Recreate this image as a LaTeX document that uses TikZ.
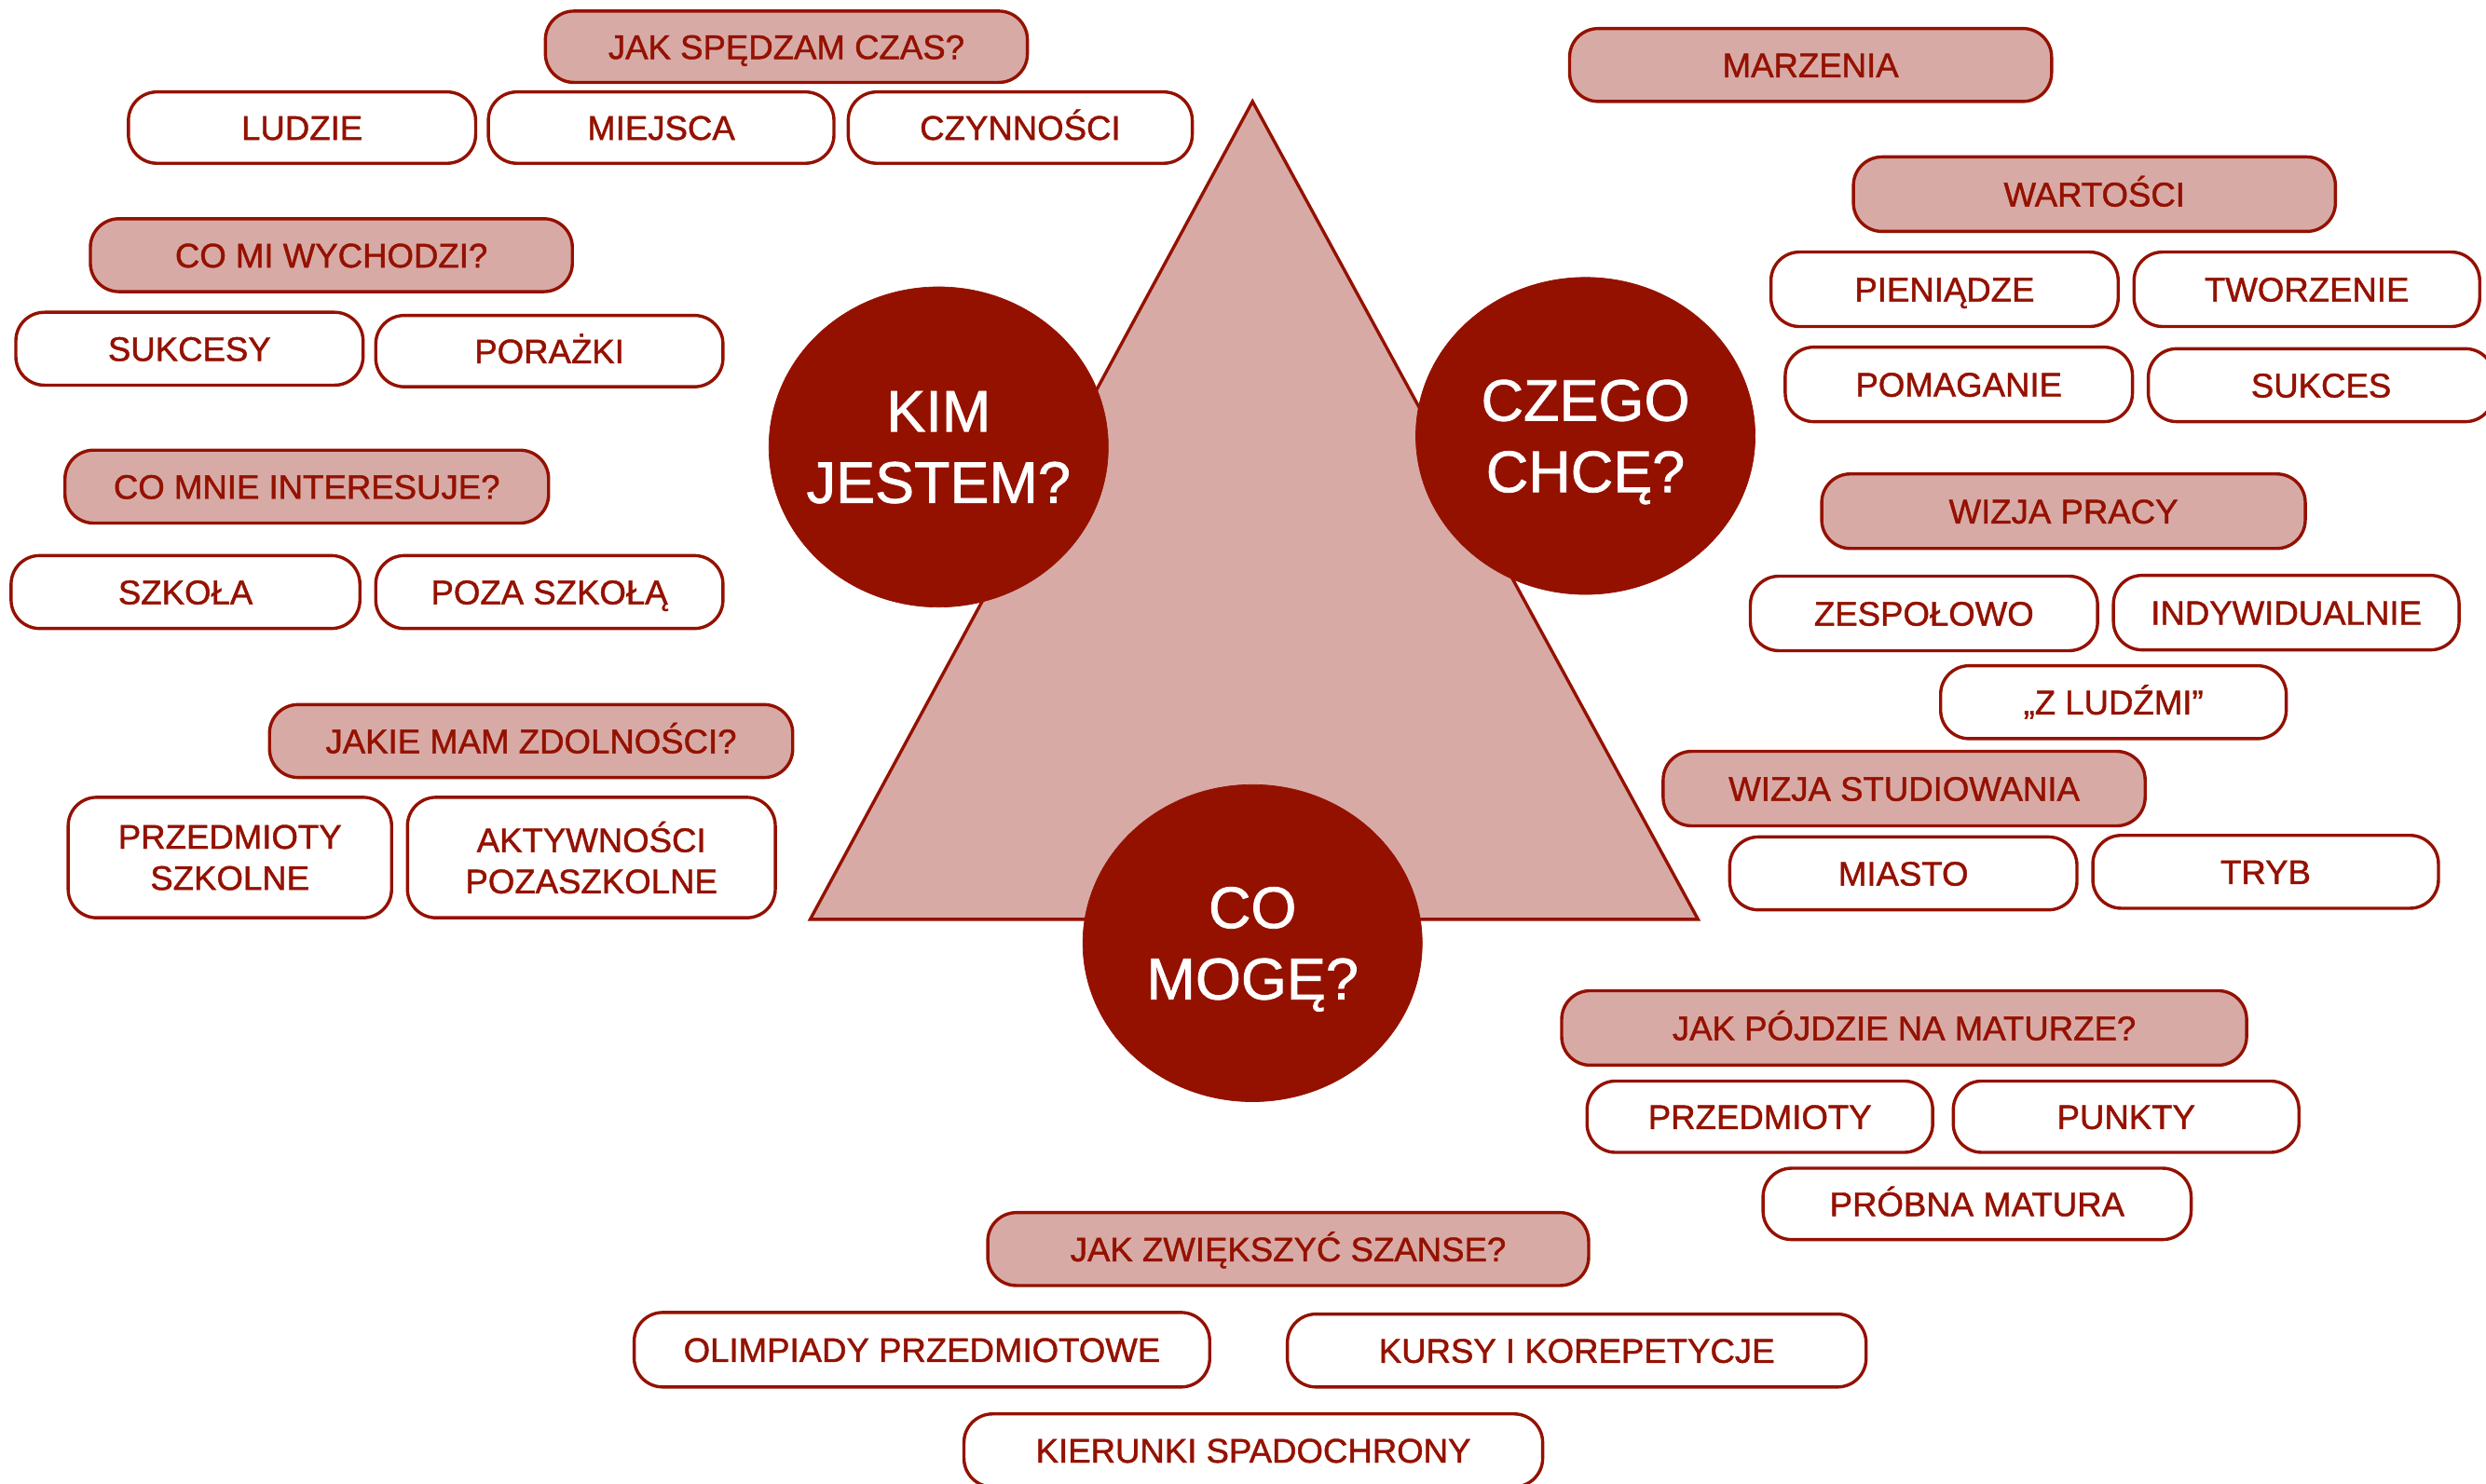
\documentclass[tikz,border=0pt]{standalone}
\usepackage{fontspec}
\setmainfont{Liberation Sans}
\newfontfamily\medfont[FakeBold=1.2]{Liberation Sans}
\usetikzlibrary{shapes.geometric}
\definecolor{dred}{HTML}{941100}
\definecolor{pinkf}{HTML}{D8AAA6}
\tikzset{
  box/.style={draw=dred, line width=2pt, rounded corners=18pt, fill=white, text=dred,
    font=\medfont\fontsize{21.5}{26}\selectfont, inner sep=0pt, align=center,
    text height=15.4pt, text depth=0pt},
  box2/.style={box, text height=, text depth=},
  head/.style={box, fill=pinkf},
  circ/.style={ellipse, fill=dred, draw=dred, inner sep=0pt},
  circtext/.style={text=white, font=\medfont\fontsize{37}{45}\selectfont, align=center,
    inner sep=0pt, text depth=0pt},
  tri/.style={draw=dred, fill=pinkf, line width=2pt, line join=miter}
}
\newcommand{\bx}[7]{\node[#1, minimum width=#5pt, minimum height=#6pt] (#2) at (#3,#4) {#7};}
\begin{document}
\begin{tikzpicture}[x=1pt, y=-1pt]
\useasboundingbox (0,0) rectangle (1568,936);
% triangle
\coordinate (apex) at (790,64);
\coordinate (bl) at (511,580);
\coordinate (br) at (1071,580);
\draw[tri] (apex) -- (bl) -- (br) -- cycle;
% circles
\node[circ, minimum width=214pt, minimum height=202pt] (kim) at (592,282) {};
\node[circtext] (kimt) at (kim) {KIM\\JESTEM?};
\node[circ, minimum width=214pt, minimum height=200pt] (czego) at (1000,275) {};
\node[circtext] (czegot) at (czego) {CZEGO\\CHCĘ?};
\node[circ, minimum width=214pt, minimum height=200pt] (co) at (790,595) {};
\node[circtext] (cot) at (co) {CO\\MOGĘ?};
% left groups
\bx{head}{jsc}{496}{29.5}{304}{45}{JAK SPĘDZAM CZAS?}
\bx{box}{ludzie}{190.5}{80.5}{219}{45}{LUDZIE}
\bx{box}{miejsca}{417}{80.5}{218}{45}{MIEJSCA}
\bx{box}{czyn}{643.5}{80.5}{217}{45}{CZYNNOŚCI}
\bx{head}{cmw}{209}{161}{304}{46}{CO MI WYCHODZI?}
\bx{box}{sukcesy}{119.5}{220}{219}{46}{SUKCESY}
\bx{box}{porazki}{346.5}{221.5}{219}{45}{PORAŻKI}
\bx{head}{cmi}{193.5}{307}{305}{46}{CO MNIE INTERESUJE?}
\bx{box}{szkola}{117}{373.5}{220}{46}{SZKOŁA}
\bx{box}{poza}{346.5}{373.5}{219}{46}{POZA SZKOŁĄ}
\bx{head}{jmz}{335}{467.5}{330}{46}{JAKIE MAM ZDOLNOŚCI?}
\bx{box2}{przsz}{145}{541}{204}{76}{PRZEDMIOTY\\SZKOLNE}
\bx{box2}{akt}{373}{541}{232}{76}{AKTYWNOŚCI\\POZASZKOLNE}
% bottom group
\bx{head}{jzs}{812.5}{788}{379}{46}{JAK ZWIĘKSZYĆ SZANSE?}
\bx{box}{olimp}{581.5}{851.5}{363}{47}{OLIMPIADY PRZEDMIOTOWE}
\bx{box}{kursy}{994.5}{852}{365}{46}{KURSY I KOREPETYCJE}
\bx{box}{kier}{790.5}{915}{365}{46}{KIERUNKI SPADOCHRONY}
% right groups
\bx{head}{marz}{1142}{41}{304}{46}{MARZENIA}
\bx{head}{wart}{1321}{122.5}{304}{47}{WARTOŚCI}
\bx{box}{pien}{1226.5}{182.5}{219}{47}{PIENIĄDZE}
\bx{box}{tworz}{1455}{182.5}{218}{47}{TWORZENIE}
\bx{box}{pomag}{1235.5}{242.5}{219}{47}{POMAGANIE}
\bx{box}{sukces}{1464}{243}{218}{46}{SUKCES}
\bx{head}{wpr}{1301.5}{322.5}{305}{47}{WIZJA PRACY}
\bx{box}{zesp}{1213.5}{387}{219}{47}{ZESPOŁOWO}
\bx{box}{indyw}{1442}{386.5}{218}{47}{INDYWIDUALNIE}
\bx{box}{zlud}{1333}{443}{218}{46}{„Z LUDŹMI”}
\bx{head}{wst}{1201}{497.5}{304}{47}{WIZJA STUDIOWANIA}
\bx{box}{miasto}{1200.5}{551}{219}{46}{MIASTO}
\bx{box}{tryb}{1429}{550}{218}{46}{TRYB}
\bx{head}{jpnm}{1201}{648.5}{432}{47}{JAK PÓJDZIE NA MATURZE?}
\bx{box}{przedm}{1110}{704.5}{218}{45}{PRZEDMIOTY}
\bx{box}{punkty}{1341}{704.5}{218}{45}{PUNKTY}
\bx{box}{probna}{1247}{759.5}{270}{45}{PRÓBNA MATURA}
\end{tikzpicture}
\end{document}
